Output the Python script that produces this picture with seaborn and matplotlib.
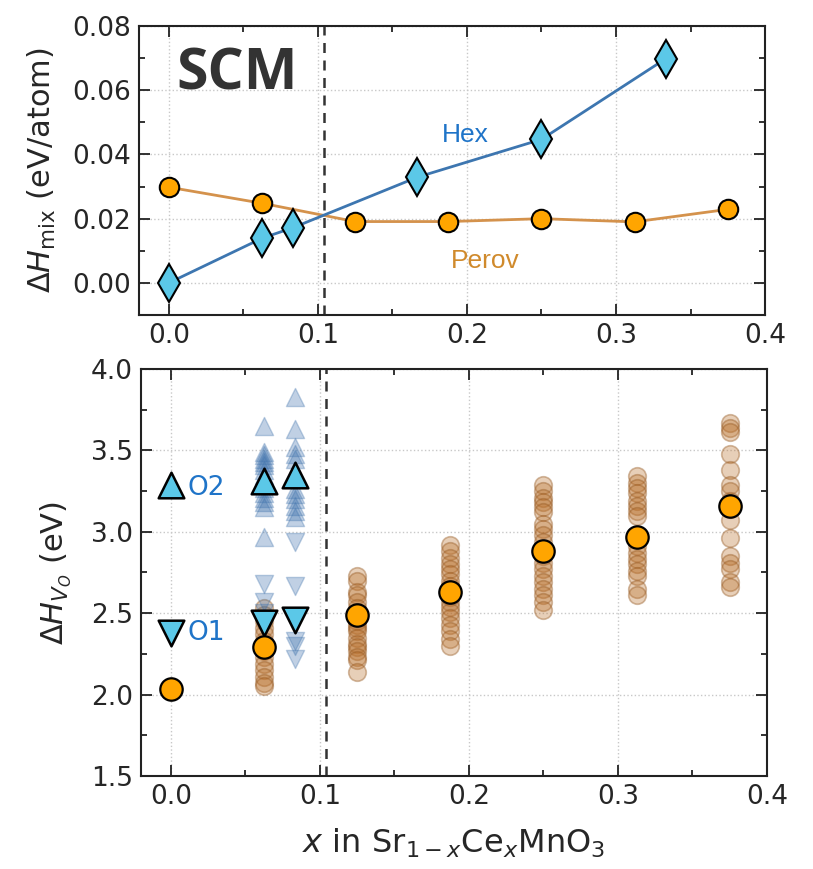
import numpy as np
import pandas as pd
import matplotlib
matplotlib.use("Agg")
import matplotlib.pyplot as plt
import seaborn as sns
from matplotlib.ticker import MultipleLocator, FormatStrFormatter

sns.set_style("ticks")
plt.rcParams['font.family'] = ['DejaVu Sans']
plt.rcParams['mathtext.fontset'] = 'dejavusans'

# ---------------- data ----------------
hex_x = [0.0, 1/16, 1/12, 1/6, 1/4, 1/3]
hex_y = [0.000, 0.0139, 0.0172, 0.0329, 0.0447, 0.0698]
perov_x = [0.0, 1/16, 1/8, 3/16, 1/4, 5/16, 3/8]
perov_y = [0.0298, 0.0248, 0.0191, 0.0191, 0.0200, 0.0190, 0.0229]

vo_x = [0.0, 1/16, 1/8, 3/16, 1/4, 5/16, 3/8]
vo_mean = [2.034, 2.29, 2.49, 2.63, 2.88, 2.97, 3.156]

o_x = [0.0, 1/16, 1/12]
o2_mean = [3.285, 3.31, 3.35]
o1_mean = [2.38, 2.44, 2.46]

cloud_0625 = [2.53, 2.49, 2.45, 2.41, 2.37, 2.33, 2.27, 2.23, 2.19, 2.15, 2.11, 2.07, 2.05]
cloud_125 = [2.73, 2.70, 2.63, 2.61, 2.57, 2.53, 2.45, 2.43, 2.41, 2.39, 2.35, 2.31, 2.29, 2.27, 2.23, 2.21, 2.14]
cloud_1875 = [2.92, 2.88, 2.84, 2.80, 2.77, 2.74, 2.70, 2.67, 2.60, 2.57, 2.54, 2.51, 2.47, 2.43, 2.39, 2.34, 2.30]
cloud_25 = [3.29, 3.25, 3.21, 3.18, 3.15, 3.12, 3.05, 3.02, 2.98, 2.94, 2.85, 2.81, 2.77, 2.73, 2.69, 2.65, 2.61, 2.57, 2.52]
cloud_3125 = [3.34, 3.30, 3.27, 3.24, 3.19, 3.16, 3.13, 3.10, 2.91, 2.87, 2.83, 2.80, 2.76, 2.73, 2.65, 2.61]
cloud_375 = [3.67, 3.64, 3.61, 3.48, 3.38, 3.29, 3.25, 3.19, 3.14, 3.07, 2.96, 2.85, 2.81, 2.77, 2.69, 2.66]

o2_cloud_0625 = [3.65, 3.49, 3.47, 3.45, 3.43, 3.41, 3.38, 3.35, 3.32, 3.27, 3.24, 3.21, 3.18, 3.15, 2.97]
o2_cloud_0833 = [3.83, 3.63, 3.52, 3.48, 3.45, 3.26, 3.23, 3.20, 3.16, 3.13, 3.09]
o1_cloud_0625 = [2.68, 2.57, 2.50]
o1_cloud_0833 = [2.94, 2.67, 2.33, 2.30, 2.22]

cloud_df = pd.DataFrame({
    "x": [1/16]*len(cloud_0625) + [1/8]*len(cloud_125) + [3/16]*len(cloud_1875)
         + [1/4]*len(cloud_25) + [5/16]*len(cloud_3125) + [3/8]*len(cloud_375),
    "y": cloud_0625 + cloud_125 + cloud_1875 + cloud_25 + cloud_3125 + cloud_375,
})
o2_df = pd.DataFrame({"x": [1/16]*len(o2_cloud_0625) + [1/12]*len(o2_cloud_0833),
                      "y": o2_cloud_0625 + o2_cloud_0833})
o1_df = pd.DataFrame({"x": [1/16]*len(o1_cloud_0625) + [1/12]*len(o1_cloud_0833),
                      "y": o1_cloud_0625 + o1_cloud_0833})

x_ticks = [0.0, 0.1, 0.2, 0.3, 0.4]
boundary_x = 0.104

# ---------------- colours ----------------
hex_line = "#3D76B0"
hex_face = "#5BC8E8"
perov_line = "#D4924C"
orange = "#FFA500"
label_blue = "#1F74C8"
label_orange = "#D08A2C"

fig = plt.figure(figsize=(8.13, 8.69), dpi=100)
ax1 = fig.add_axes([0.171, 0.6375, 0.770, 0.3326])
ax2 = fig.add_axes([0.1734, 0.107, 0.770, 0.4684])

# ---------------- top panel ----------------
sns.lineplot(x=perov_x, y=perov_y, ax=ax1, color=perov_line, lw=2, marker='o',
             markersize=14, markerfacecolor=orange, markeredgecolor='k',
             markeredgewidth=1.5, zorder=3)
sns.lineplot(x=hex_x, y=hex_y, ax=ax1, color=hex_line, lw=2, marker='d',
             markersize=19, markerfacecolor=hex_face, markeredgecolor='k',
             markeredgewidth=1.5, zorder=4)
ax1.axvline(boundary_x, color='#333333', ls=(0, (4, 3)), lw=1.8, zorder=2)
ax1.set_xlim(-0.02, 0.4)
ax1.set_ylim(-0.01, 0.08)
ax1.yaxis.set_major_locator(MultipleLocator(0.02))
ax1.yaxis.set_minor_locator(MultipleLocator(0.01))
ax1.yaxis.set_major_formatter(FormatStrFormatter('%.2f'))
ax1.set_ylabel(r"$\Delta H_{\rm mix}$ (eV/atom)", fontsize=22, labelpad=10)
ax1.text(0.005, 0.0648, "SCM", fontsize=41, fontweight='bold', color='#333333',
         family=['Open Sans', 'DejaVu Sans'], ha='left', va='center')
ax1.text(0.199, 0.0462, "Hex", fontsize=19, color=label_blue, ha='center', va='center',
         family=['Liberation Sans', 'DejaVu Sans'])
ax1.text(0.212, 0.0068, "Perov", fontsize=19, color=label_orange, ha='center', va='center',
         family=['Liberation Sans', 'DejaVu Sans'])

# ---------------- bottom panel ----------------
sns.scatterplot(data=cloud_df, x="x", y="y", ax=ax2, s=160, marker='o',
                facecolor=(0.72, 0.43, 0.16, 0.33), edgecolor=(0.58, 0.34, 0.12, 0.4),
                linewidth=1.2, zorder=2, legend=False)
sns.scatterplot(data=o2_df, x="x", y="y", ax=ax2, s=170, marker='^',
                facecolor=(0.25, 0.45, 0.68, 0.33), edgecolor=(0.25, 0.45, 0.68, 0.33),
                linewidth=1.0, zorder=2, legend=False)
sns.scatterplot(data=o1_df, x="x", y="y", ax=ax2, s=170, marker='v',
                facecolor=(0.25, 0.45, 0.68, 0.33), edgecolor=(0.25, 0.45, 0.68, 0.33),
                linewidth=1.0, zorder=2, legend=False)
sns.scatterplot(x=o_x, y=o2_mean, ax=ax2, s=340, marker='^', color=hex_face,
                edgecolor='k', linewidth=1.8, zorder=4, legend=False)
sns.scatterplot(x=o_x, y=o1_mean, ax=ax2, s=340, marker='v', color=hex_face,
                edgecolor='k', linewidth=1.8, zorder=4, legend=False)
sns.scatterplot(x=vo_x, y=vo_mean, ax=ax2, s=260, marker='o', color=orange,
                edgecolor='k', linewidth=1.6, zorder=5, legend=False)
ax2.axvline(boundary_x, color='#333333', ls=(0, (4, 3)), lw=1.8, zorder=1)
ax2.text(0.011, o2_mean[0] - 0.015, "O2", fontsize=19, color=label_blue, ha='left',
         va='center', family=['DejaVu Sans'])
ax2.text(0.011, o1_mean[0], "O1", fontsize=19, color=label_blue, ha='left',
         va='center', family=['DejaVu Sans'])
ax2.set_xlim(-0.02, 0.4)
ax2.set_ylim(1.5, 4.0)
ax2.yaxis.set_major_locator(MultipleLocator(0.5))
ax2.yaxis.set_minor_locator(MultipleLocator(0.25))
ax2.yaxis.set_major_formatter(FormatStrFormatter('%.1f'))
ax2.set_ylabel(r"$\Delta H_{V_O}$ (eV)", fontsize=22, labelpad=12)
ax2.set_xlabel(r"$x$ in Sr$_{1-x}$Ce$_x$MnO$_3$", fontsize=23, labelpad=12)

for ax in (ax1, ax2):
    ax.set_xticks(x_ticks)
    ax.xaxis.set_major_formatter(FormatStrFormatter('%.1f'))
    ax.xaxis.set_minor_locator(MultipleLocator(0.05))
    ax.tick_params(which='both', direction='in', top=True, right=True,
                   labelsize=19, color='#222222', width=1.3)
    ax.tick_params(which='major', length=8, pad=6)
    ax.tick_params(which='minor', length=4.5)
    ax.grid(True, which='major', ls=':', color='#c8c8c8', lw=1.0, zorder=0)
    ax.set_axisbelow(True)
    for sp in ax.spines.values():
        sp.set_linewidth(1.5)
        sp.set_color('#222222')
ax1.set_xlabel("")

fig.savefig("out.png", dpi=100)
